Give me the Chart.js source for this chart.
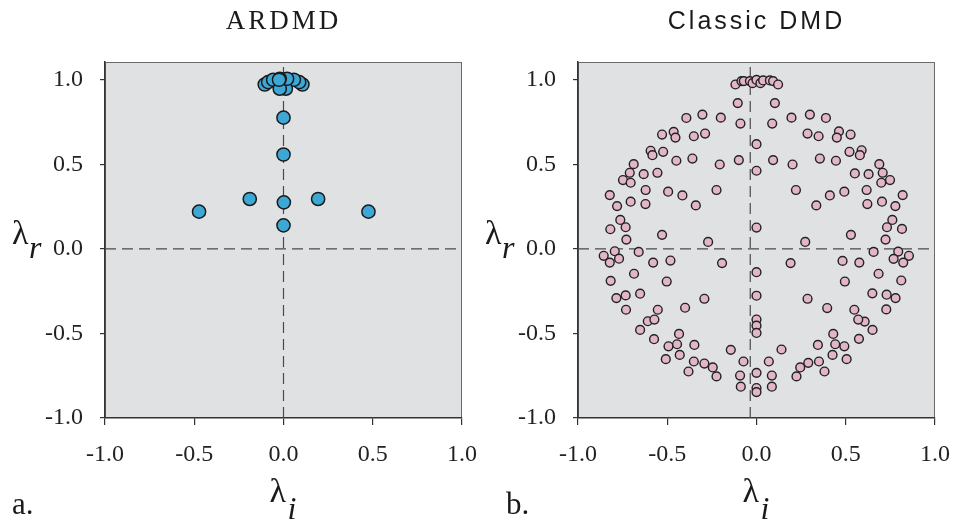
<!DOCTYPE html>
<html>
<head>
<meta charset="utf-8">
<script src="https://cdn.jsdelivr.net/npm/chart.js@4.4.1/dist/chart.umd.min.js"></script>
<style>
  html, body { margin: 0; padding: 0; background: #fff; }
  #wrap { position: relative; width: 954px; height: 523px; }
  .panel { position: absolute; top: 0; width: 477px; height: 523px; }
</style>
</head>
<body>
<div id="wrap">
  <div class="panel" style="left:0"><canvas id="chart_ardmd"></canvas></div>
  <div class="panel" style="left:477px"><canvas id="chart_dmd"></canvas></div>
</div>
<script>
/**
 * @name Eigenvalue plots
 * @function ARDMD vs classic DMD eigenvalues, lambda_i (x) against lambda_r (y)
 */

var xTicks = [-1, -0.5, 0, 0.5, 1];
var yTicks = [-1, -0.5, 0, 0.5, 1];
var xRange = [-1, 1];
var yRange = [-1, 1.105];

// ARDMD eigenvalues
var ardmdImag = [-0.473, -0.189, 0.002, 0.194, 0.476, 0.000, 0.000, 0.000,
  -0.105, 0.106, -0.086, 0.088, 0.058, -0.058, 0.013, -0.021, 0.020, -0.021, -0.025];
var ardmdReal = [0.220, 0.295, 0.275, 0.295, 0.220, 0.139, 0.558, 0.776,
  0.972, 0.972, 0.986, 0.986, 1.000, 1.000, 0.947, 0.947, 1.006, 1.006, 1.000];

// classic DMD eigenvalues
var dmdImag = [
  // top cluster
  -0.118, -0.084, -0.071, -0.037, -0.022, 0.000, 0.022, 0.037, 0.075, 0.093, 0.121,
  // upper left
  -0.105, -0.090, -0.099, -0.206, -0.224, -0.271, -0.200, -0.303, -0.393, -0.288,
  -0.351, -0.464, -0.454, -0.529, -0.359, -0.449, -0.523, -0.593, -0.583, -0.688,
  -0.710, -0.748, -0.705, -0.632, -0.555, -0.621, -0.495, -0.415, -0.340, -0.622,
  -0.705, -0.822, -0.781, -0.763, -0.733, -0.819, -0.729, -0.529,
  // upper right
  0.103, 0.088, 0.093, 0.202, 0.221, 0.273, 0.196, 0.299, 0.389, 0.286,
  0.348, 0.462, 0.450, 0.527, 0.355, 0.445, 0.521, 0.589, 0.579, 0.688,
  0.707, 0.748, 0.699, 0.628, 0.551, 0.617, 0.492, 0.411, 0.335, 0.621,
  0.703, 0.819, 0.778, 0.761, 0.731, 0.815, 0.723, 0.529,
  // on the axis
  0.000, 0.000, 0.000, 0.000, 0.000, 0.000, 0.000, 0.000, 0.000, 0.000, 0.000,
  // lower left
  -0.794, -0.856, -0.770, -0.660, -0.822, -0.579, -0.482, -0.193, -0.686, -0.817,
  -0.503, -0.785, -0.733, -0.652, -0.292, -0.731, -0.553, -0.400, -0.609, -0.572,
  -0.652, -0.574, -0.434, -0.493, -0.445, -0.348, -0.144, -0.508, -0.430, -0.073,
  -0.351, -0.292, -0.245, -0.381, -0.224, -0.092, -0.088,
  // lower right
  0.794, 0.854, 0.768, 0.656, 0.822, 0.576, 0.482, 0.191, 0.684, 0.811,
  0.495, 0.779, 0.729, 0.649, 0.286, 0.727, 0.548, 0.396, 0.606, 0.570,
  0.650, 0.574, 0.430, 0.492, 0.441, 0.344, 0.140, 0.505, 0.426, 0.069,
  0.350, 0.290, 0.245, 0.381, 0.224, 0.086, 0.086
];
var dmdReal = [
  0.972, 0.992, 0.992, 0.992, 0.980, 0.999, 0.980, 0.996, 0.996, 0.992, 0.972,
  0.862, 0.741, 0.525, 0.499, 0.348, 0.041, 0.776, 0.794, 0.774, 0.682,
  0.666, 0.692, 0.658, 0.676, 0.534, 0.521, 0.574, 0.580, 0.554, 0.501,
  0.450, 0.407, 0.391, 0.442, 0.450, 0.348, 0.338, 0.316, 0.257, 0.265,
  0.279, 0.318, 0.253, 0.171, 0.128, 0.116, 0.055, 0.083,
  0.862, 0.741, 0.525, 0.499, 0.348, 0.041, 0.776, 0.794, 0.774, 0.682,
  0.666, 0.695, 0.658, 0.676, 0.534, 0.521, 0.574, 0.583, 0.554, 0.501,
  0.450, 0.407, 0.391, 0.442, 0.446, 0.348, 0.338, 0.316, 0.257, 0.265,
  0.279, 0.318, 0.253, 0.171, 0.128, 0.118, 0.055, 0.083,
  0.619, 0.462, 0.126, -0.138, -0.277, -0.418, -0.454, -0.497, -0.733, -0.823, -0.847,
  -0.014, -0.041, -0.058, -0.018, -0.081, -0.081, -0.069, -0.084, -0.147, -0.189,
  -0.193, -0.291, -0.275, -0.265, -0.295, -0.360, -0.360, -0.348, -0.428, -0.418,
  -0.479, -0.534, -0.503, -0.576, -0.564, -0.568, -0.597, -0.652, -0.627, -0.666,
  -0.666, -0.678, -0.701, -0.725, -0.754, -0.749, -0.815,
  -0.016, -0.041, -0.059, -0.018, -0.081, -0.081, -0.071, -0.084, -0.147, -0.187,
  -0.193, -0.291, -0.271, -0.263, -0.295, -0.358, -0.360, -0.350, -0.430, -0.418,
  -0.479, -0.532, -0.503, -0.576, -0.564, -0.568, -0.595, -0.652, -0.627, -0.666,
  -0.666, -0.674, -0.701, -0.725, -0.754, -0.749, -0.815
];

// where the dashed cross hairs sit
var ardmdGuideX = 0;
var dmdGuideX = -0.035;
var guideY = 0;

function toPoints(xs, ys) {
  return xs.map(function(x, i) { return { x: x, y: ys[i] }; });
}

// grey plot box, frame and all the hand placed labels
var panelDecor = {
  id: 'panelDecor',
  beforeDraw: function(chart) {
    var a = chart.chartArea, ctx = chart.ctx;
    ctx.save();
    ctx.fillStyle = '#e0e1e3';
    ctx.fillRect(a.left, a.top, a.right - a.left, a.bottom - a.top);
    ctx.strokeStyle = '#6a6a6a';
    ctx.lineWidth = 1;
    ctx.strokeRect(a.left + 0.5, a.top + 0.5, a.right - a.left - 1, a.bottom - a.top - 1);
    ctx.restore();
  },
  afterDraw: function(chart, args, opts) {
    var a = chart.chartArea, ctx = chart.ctx;
    var cx = (a.left + a.right) / 2;
    ctx.save();
    ctx.fillStyle = '#1a1a1a';
    ctx.textBaseline = 'alphabetic';

    // panel title
    ctx.font = opts.titleFont;
    ctx.letterSpacing = opts.titleSpacing;
    ctx.textAlign = 'center';
    ctx.fillText(opts.title, cx, 29);
    ctx.letterSpacing = '0px';

    // lambda_r
    ctx.textAlign = 'left';
    ctx.font = '34px "Liberation Serif"';
    ctx.fillText('\u03BB', a.left - 93, 244);
    ctx.font = 'italic 32px "Liberation Serif"';
    ctx.fillText('r', a.left - 76, 258);

    // lambda_i
    ctx.font = '34px "Liberation Serif"';
    ctx.fillText('\u03BB', cx - 14, 502);
    ctx.font = 'italic 32px "Liberation Serif"';
    ctx.fillText('i', cx + 4, 519);

    // a. / b.
    ctx.font = '31px "Liberation Serif"';
    ctx.fillText(opts.letter, opts.letterX, 514);
    ctx.restore();
  }
};

var tickFont = { family: '"Liberation Serif"', size: 24 };

function makeScales(yWidth) {
  return {
    x: {
      type: 'linear',
      min: xRange[0],
      max: xRange[1],
      afterBuildTicks: function(s) { s.ticks = xTicks.map(function(v) { return { value: v }; }); },
      afterFit: function(s) { s.height = 105; s.paddingLeft = 0; s.paddingRight = 0; },
      grid: { drawOnChartArea: false, drawTicks: true, tickLength: 7, color: '#333', lineWidth: 1.2 },
      border: { display: true, color: '#333', width: 1.5 },
      ticks: {
        font: tickFont, color: '#222', padding: 15, maxRotation: 0, autoSkip: false,
        callback: function(v) { return v.toFixed(1); }
      }
    },
    y: {
      type: 'linear',
      min: yRange[0],
      max: yRange[1],
      afterBuildTicks: function(s) { s.ticks = yTicks.map(function(v) { return { value: v }; }); },
      afterFit: function(s) { s.width = yWidth; s.paddingTop = 0; s.paddingBottom = 0; },
      grid: { drawOnChartArea: false, drawTicks: true, tickLength: 5, color: '#333', lineWidth: 1.2 },
      border: { display: true, color: '#333', width: 1.5 },
      ticks: {
        font: tickFont, color: '#222', padding: 17, autoSkip: false,
        callback: function(v) { return v.toFixed(1); }
      }
    }
  };
}

function guideLines(gx) {
  var style = {
    showLine: true, pointRadius: 0, borderColor: '#4a4a4a', borderWidth: 1.2,
    borderDash: [11, 6], fill: false, order: 5
  };
  return [
    Object.assign({ data: [{ x: xRange[0], y: guideY }, { x: xRange[1], y: guideY }] }, style),
    Object.assign({ data: [{ x: gx, y: yRange[0] }, { x: gx, y: yRange[1] }] }, style)
  ];
}

function makeChart(id, points, pointStyle, gx, yWidth, padRight, decor) {
  var ctx = document.getElementById(id).getContext('2d');
  return new Chart(ctx, {
    type: 'scatter',
    data: {
      datasets: [Object.assign({ data: points, order: 1 }, pointStyle)].concat(guideLines(gx))
    },
    options: {
      responsive: true,
      maintainAspectRatio: false,
      animation: false,
      events: [],
      layout: { padding: { left: 0, right: padRight, top: 62, bottom: 0 } },
      plugins: {
        legend: { display: false },
        tooltip: { enabled: false },
        panelDecor: decor
      },
      scales: makeScales(yWidth)
    },
    plugins: [panelDecor]
  });
}

makeChart('chart_ardmd', toPoints(ardmdImag, ardmdReal), {
  backgroundColor: '#3da7d6', borderColor: '#1a1a1a', borderWidth: 1.5, pointRadius: 6.6
}, ardmdGuideX, 105, 15, {
  title: 'ARDMD', titleFont: '27px "Liberation Serif"', titleSpacing: '3px', letter: 'a.', letterX: 12
});

makeChart('chart_dmd', toPoints(dmdImag, dmdReal), {
  backgroundColor: '#e2b5c8', borderColor: '#222', borderWidth: 1.4, pointRadius: 4.4
}, dmdGuideX, 101, 19, {
  title: 'Classic DMD', titleFont: '25px "Liberation Sans"', titleSpacing: '3px', letter: 'b.', letterX: 29
});
</script>
</body>
</html>
